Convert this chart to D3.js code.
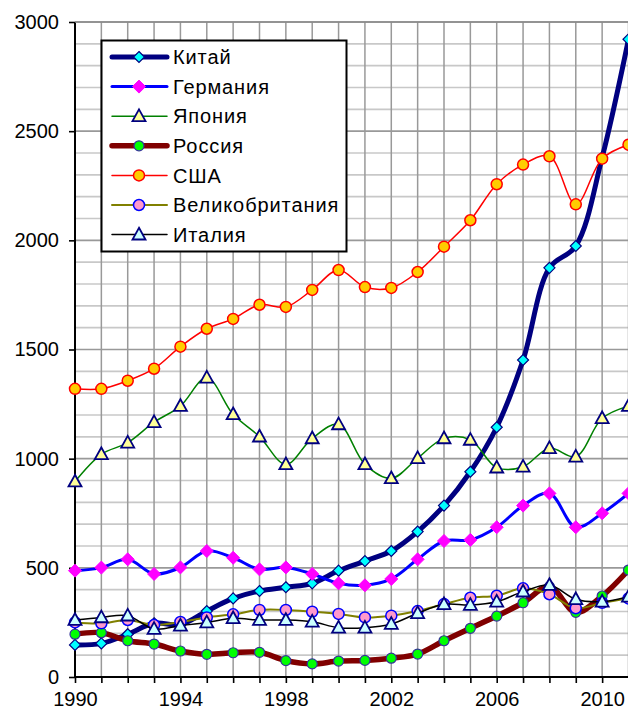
<!DOCTYPE html>
<html><head><meta charset="utf-8">
<script src="https://cdn.jsdelivr.net/npm/d3@7"></script>
<style>body{margin:0;background:#fff}svg{display:block;font-family:"Liberation Sans",Arial,sans-serif}</style>
</head><body>
<svg id="c" width="628" height="713"></svg>
<script>
const years = d3.range(1990, 2012);
const china   = [147,154,196,246,240,302,360,394,411,429,487,531,577,666,785,940,1144,1452,1874,1974,2380,2921];
const germany = [487,501,539,472,502,577,546,493,502,472,429,420,449,539,623,628,686,785,841,686,750,841];
const japan   = [895,1020,1073,1167,1241,1371,1203,1101,974,1093,1157,974,910,1002,1093,1086,959,963,1048,1009,1185,1241];
const russia  = [196,203,166,151,119,104,111,113,75,60,73,76,86,105,166,223,279,340,414,296,371,490];
const usa     = [1320,1320,1357,1412,1513,1595,1640,1705,1695,1773,1864,1786,1782,1855,1971,2092,2257,2347,2385,2165,2374,2438];
const uk      = [250,246,261,238,252,273,287,307,307,299,289,273,281,302,334,363,372,406,379,315,340,360];
const italy   = [261,273,281,220,235,250,269,261,261,253,226,226,243,292,333,330,345,391,421,356,345,368];
const names   = ["Китай","Германия","Япония","Россия","США","Великобритания","Италия"];
const yTicks  = [0,500,1000,1500,2000,2500,3000];
const xTicks  = [1990,1994,1998,2002,2006,2010];

const series = [
  {name:names[0], v:china,   stroke:"#000080", w:5,   m:"diamond", size:5.5, fill:"#00FFFF", mstroke:"#000080", mw:1.2},
  {name:names[1], v:germany, stroke:"#0000FF", w:3,   m:"diamond", size:6.5, fill:"#FF00FF", mstroke:"#FF00FF", mw:1},
  {name:names[2], v:japan,   stroke:"#008000", w:1.5, m:"triangle",size:6.5, fill:"#FFFF99", mstroke:"#000080", mw:1.8},
  {name:names[3], v:russia,  stroke:"#800000", w:5.5, m:"circle",  size:5,   fill:"#00FF00", mstroke:"#333399", mw:1.2},
  {name:names[4], v:usa,     stroke:"#FF0000", w:1.5, m:"circle",  size:5.5, fill:"#FFCC00", mstroke:"#FF0000", mw:1.5},
  {name:names[5], v:uk,      stroke:"#808000", w:2,   m:"circle",  size:5.5, fill:"#FF99CC", mstroke:"#0000FF", mw:1.5},
  {name:names[6], v:italy,   stroke:"#000000", w:1.5, m:"triangle",size:6.5, fill:"#CCFFFF", mstroke:"#000080", mw:1.8}
];

const svg = d3.select("#c");
const x = d3.scaleLinear().domain([1990, 2011]).range([75, 628.5]);
const y = d3.scaleLinear().domain([0, 3000]).range([677, 22]);

// gridlines
const g = svg.append("g");
g.selectAll("line.h").data(d3.range(100, 3001, 100)).join("line")
  .attr("x1", x(1990)).attr("x2", 628).attr("y1", d=>y(d)).attr("y2", d=>y(d))
  .attr("stroke", d=> d%500===0 ? "#999" : "#c8c8c8").attr("stroke-width", 1.7);
g.selectAll("line.v").data(years.slice(1)).join("line")
  .attr("x1", d=>x(d)).attr("x2", d=>x(d)).attr("y1", y(0)).attr("y2", y(3000))
  .attr("stroke", "#999").attr("stroke-width", 1.5);

// axes
const ya = svg.append("g").attr("transform", `translate(${x(1990)},0)`)
  .call(d3.axisLeft(y).tickValues(yTicks).tickSize(6).tickPadding(10).tickFormat(d3.format("d")));
const xa = svg.append("g").attr("transform", `translate(0,${y(0)})`)
  .call(d3.axisBottom(x).tickValues(years).tickSize(6).tickPadding(9)
    .tickFormat(d => xTicks.includes(d) ? String(d) : ""));
[ya, xa].forEach(a => {
  a.select(".domain").attr("stroke", "#000").attr("stroke-width", 2);
  a.selectAll(".tick line").attr("stroke", "#000").attr("stroke-width", 1.6);
  a.selectAll("text").attr("font-size", 20).attr("fill", "#000")
    .attr("font-family", '"Liberation Sans",Arial,sans-serif');
});
ya.select(".domain").attr("d", `M0,${y(0)}V${y(3000)}`);
xa.select(".domain").attr("d", `M${x(1990)},0H628`);

// markers
function marker(sel, s) {
  if (s.m === "circle") {
    sel.append("circle").attr("r", s.size);
  } else if (s.m === "diamond") {
    const r = s.size;
    sel.append("path").attr("d", `M0,${-r}L${r},0L0,${r}L${-r},0Z`);
  } else {
    const r = s.size;
    sel.append("path").attr("d", `M0,${-r*1.05}L${r},${r*0.75}L${-r},${r*0.75}Z`);
  }
  sel.selectAll("circle,path").attr("fill", s.fill).attr("stroke", s.mstroke)
    .attr("stroke-width", s.mw).attr("stroke-linejoin", "miter");
}

const line = d3.line().x((d,i)=>x(years[i])).y(d=>y(d)).curve(d3.curveCatmullRom.alpha(0.5));
series.forEach(s => {
  const sg = svg.append("g");
  sg.append("path").attr("d", line(s.v)).attr("fill", "none")
    .attr("stroke", s.stroke).attr("stroke-width", s.w).attr("stroke-linejoin", "round").attr("stroke-linecap","round");
  s.v.forEach((v,i) => {
    const mg = sg.append("g").attr("transform", `translate(${x(years[i])},${y(v)})`);
    marker(mg, s);
  });
});

// top border
svg.append("line").attr("x1", x(1990)).attr("x2", 628).attr("y1", y(3000)).attr("y2", y(3000))
  .attr("stroke", "#888").attr("stroke-width", 1.6);

// legend
const lg = svg.append("g");
lg.append("rect").attr("x", 101.5).attr("y", 40.5).attr("width", 245).attr("height", 211)
  .attr("fill", "#fff").attr("stroke", "#000").attr("stroke-width", 2);
series.forEach((s, i) => {
  const cy = 57 + i * 29.6;
  lg.append("line").attr("x1", 112).attr("x2", 167).attr("y1", cy).attr("y2", cy)
    .attr("stroke", s.stroke).attr("stroke-width", s.w).attr("stroke-linecap","round");
  const mg = lg.append("g").attr("transform", `translate(139,${cy})`);
  marker(mg, s);
  lg.append("text").attr("x", 173).attr("y", cy).attr("dy", "0.36em")
    .attr("font-size", 20).attr("letter-spacing", 0.9).attr("fill", "#000").text(s.name);
});
</script>
</body></html>
